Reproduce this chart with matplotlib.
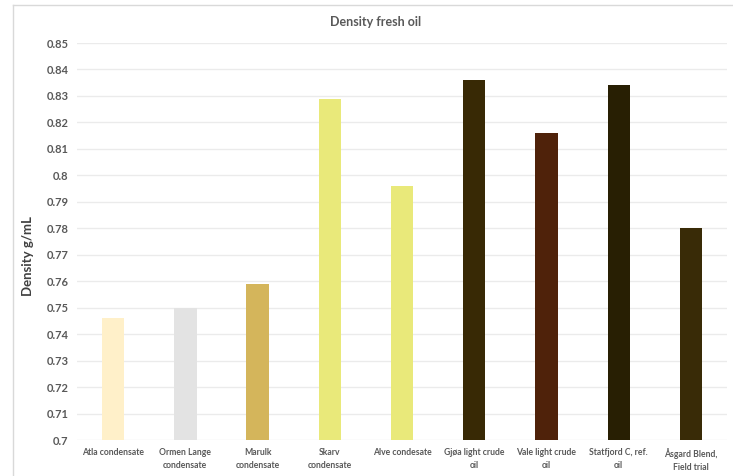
import numpy as np
import matplotlib.pyplot as plt
from matplotlib.lines import Line2D

# Datos
categorias = ["Atla condensate", "Ormen Lange\ncondensate", "Marulk\ncondensate",
              "Skarv\ncondensate", "Alve condesate", "Gjøa light crude\noil",
              "Vale light crude\noil", "Statfjord C, ref.\noil", "Åsgard Blend,\nField trial"]
densidad = [0.746, 0.750, 0.759, 0.829, 0.796, 0.836, 0.816, 0.834, 0.780]
colores = ["#FFF0C9", "#E3E3E3", "#D4B55B", "#E9E97A", "#E9E97A",
           "#382905", "#4F220A", "#281F03", "#392B07"]
yticks = [0.7, 0.71, 0.72, 0.73, 0.74, 0.75, 0.76, 0.77, 0.78, 0.79, 0.8,
          0.81, 0.82, 0.83, 0.84, 0.85]

plt.rcParams['font.family'] = ['Lato', 'DejaVu Sans']

fig = plt.figure(figsize=(7.33, 4.76), dpi=100)
ax = fig.add_axes([0.105, 0.0756, 0.887, 0.834])

x = np.arange(len(categorias))
ax.bar(x, [d - 0.7 for d in densidad], bottom=0.7, width=0.31, color=colores, zorder=3)

ax.set_xlim(-0.5, len(categorias) - 0.5)
ax.set_ylim(0.7, 0.85)
ax.set_yticks(yticks)
ax.set_yticklabels([f"{t:g}" for t in yticks], fontsize=8, fontweight='bold', color='#595959')
ax.set_xticks(x)
ax.set_xticklabels(categorias, fontsize=6.2, fontweight='bold', color='#595959', linespacing=1.5)
ax.tick_params(length=0, pad=6)
ax.grid(axis='y', color='#EBEBEB', lw=1, zorder=0)
for s in ax.spines.values():
    s.set_visible(False)
ax.set_ylabel("Density g/mL", fontsize=9.5, fontweight='bold', color='#404040')
ax.yaxis.set_label_coords(-0.066, 0.463)
fig.text(0.513, 0.953, "Density fresh oil", ha='center', va='center',
         fontsize=9, fontweight='bold', color='#595959')

# marco del gráfico
fig.add_artist(Line2D([13/733, 13/733], [0, 1 - 5/476], color='#D9D9D9', lw=1))
fig.add_artist(Line2D([13/733, 1], [1 - 5/476, 1 - 5/476], color='#D9D9D9', lw=1))

fig.savefig("out.png", dpi=100)
